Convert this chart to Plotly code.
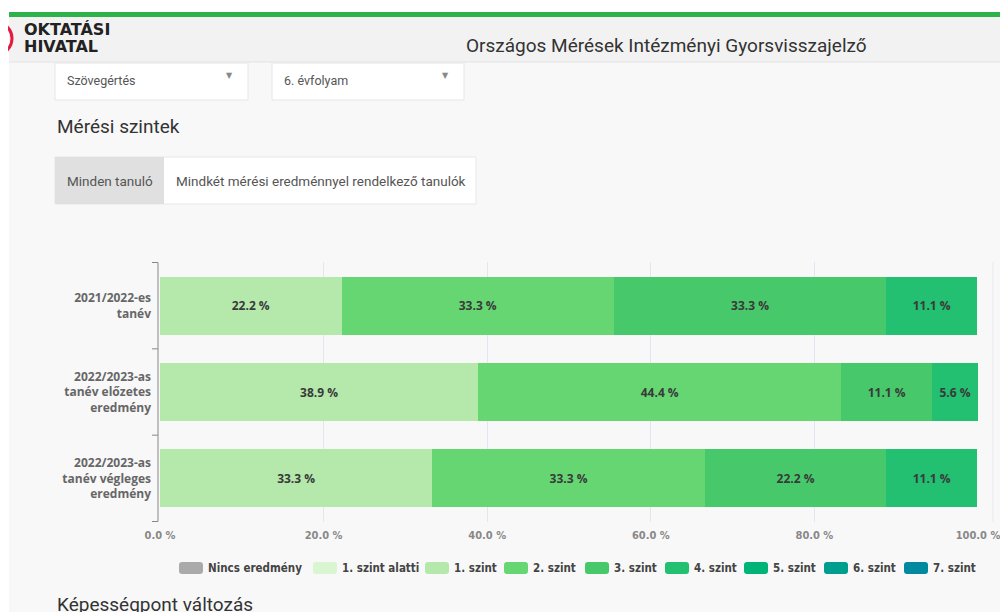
import plotly.graph_objects as go

# The page body has an 8px margin, so the figure is 8px smaller and
# screen coordinates are shifted by 8px.
OFF = 8
W, H = 1008 - OFF, 612 - OFF
M = 2  # small figure margin (px)

categories = [
    "2021/2022-es<br>tanév",
    "2022/2023-as<br>tanév előzetes<br>eredmény",
    "2022/2023-as<br>tanév végleges<br>eredmény",
]
level_names = ["Nincs eredmény", "1. szint alatti", "1. szint", "2. szint", "3. szint",
               "4. szint", "5. szint", "6. szint", "7. szint"]
level_colors = ["#aaaaaa", "#d9f5d2", "#b4e9ab", "#66d673", "#47c96b",
                "#22c070", "#00b478", "#009e8e", "#00899f"]
nincs = [0, 0, 0]
szint_alatti = [0, 0, 0]
szint1 = [22.2, 38.9, 33.3]
szint2 = [33.3, 44.4, 33.3]
szint3 = [33.3, 11.1, 22.2]
szint4 = [11.1, 5.6, 11.1]
szint5 = [0, 0, 0]
szint6 = [0, 0, 0]
szint7 = [0, 0, 0]
series = [nincs, szint_alatti, szint1, szint2, szint3, szint4, szint5, szint6, szint7]
xtick_vals = [0, 20, 40, 60, 80, 100]
xtick_text = ["0.0 %", "20.0 %", "40.0 %", "60.0 %", "80.0 %", "100.0 %"]

# legend layout (screen px of each item's swatch start)
legend_item_x = [179, 313, 425, 504, 585, 665, 744, 824, 904]


def X(px):
    return (px - OFF - M) / (W - 2 * M)


def Y(py):
    return 1 - (py - OFF - M) / (H - 2 * M)


fig = go.Figure()
for name, color, vals in zip(level_names, level_colors, series):
    fig.add_trace(go.Bar(
        y=categories, x=vals, name=name, orientation="h",
        marker=dict(color=color, line=dict(width=0)),
        text=[f"{v:.1f} %" if v > 0 else "" for v in vals],
        textposition="inside", insidetextanchor="middle",
        textfont=dict(family="Open Sans", size=12, color="#3a3a3a", weight="bold"),
        constraintext="none", hoverinfo="skip", showlegend=False,
    ))

shapes = []
annos = []


def rect(x0, x1, y0, y1, fill, line=None, layer="below"):
    shapes.append(dict(type="rect", xref="paper", yref="paper", x0=X(x0), x1=X(x1), y0=Y(y1), y1=Y(y0),
                       fillcolor=fill, line=line or dict(width=0), layer=layer))


def text(s, x, y, size, color, xanchor="left", family="Roboto", weight="normal"):
    annos.append(dict(text=s, x=X(x), y=Y(y), xref="paper", yref="paper", xanchor=xanchor,
                      yanchor="middle", showarrow=False,
                      font=dict(family=family, size=size, color=color, weight=weight)))


# page chrome
rect(0, 1008, 0, 12, "#ffffff")
rect(0, 9, 0, 612, "#ffffff")
rect(9, 1008, 17, 62, "#f2f2f2")
shapes.append(dict(type="line", xref="paper", yref="paper", x0=X(9), x1=X(1008), y0=Y(62), y1=Y(62),
                   line=dict(color="#e2e2e2", width=1), layer="below"))
rect(9, 1008, 12, 17, "#2eb34b", layer="above")
shapes.append(dict(type="circle", xref="paper", yref="paper", x0=X(-21), x1=X(12), y0=Y(55), y1=Y(22),
                   line=dict(color="#e31b3f", width=3)))
text("OKTATÁSI", 22, 30, 16, "#222222", family="DejaVu Sans", weight="bold")
text("HIVATAL", 22, 47, 16, "#222222", family="DejaVu Sans", weight="bold")
text("Országos Mérések Intézményi Gyorsvisszajelző", 666, 45, 19, "#333333", xanchor="center")

# dropdowns
for x0, x1, label in [(55, 248, "Szövegértés"), (272, 464, "6. évfolyam")]:
    rect(x0, x1, 63, 100, "#ffffff", line=dict(color="#e6e6e6", width=1))
    text(label, x0 + 10, 80, 12.5, "#555555")
    text("▼", x1 - 19, 76, 8, "#888888", xanchor="center", family="DejaVu Sans")

text("Mérési szintek", 55, 126, 19, "#333333")

# toggle
rect(55, 476, 157, 204, "#ffffff", line=dict(color="#e8e8e8", width=1))
rect(55, 164, 157, 204, "#e0e0e0")
text("Minden tanuló", 110, 181, 13.5, "#555555", xanchor="center")
text("Mindkét mérési eredménnyel rendelkező tanulók", 321, 181, 13.5, "#555555", xanchor="center")

text("Képességpont változás", 55, 604, 19, "#333333")

# faint right border line of chart
shapes.append(dict(type="line", xref="paper", yref="paper", x0=X(993), x1=X(993), y0=Y(522), y1=Y(262),
                   line=dict(color="#e6e9f0", width=1), layer="below"))

# category axis line and boundary ticks (on the y category scale)
AX_X = X(158)
shapes.append(dict(type="line", xref="paper", yref="y", x0=AX_X, x1=AX_X, y0=-0.5,
                   y1=len(categories) - 0.5, line=dict(color="#888888", width=1), layer="above"))
for b in range(len(categories) + 1):
    shapes.append(dict(type="line", xref="paper", yref="y", x0=X(152), x1=AX_X, y0=b - 0.5, y1=b - 0.5,
                       line=dict(color="#888888", width=1), layer="above"))

# manual legend
for lx, name, color in zip(legend_item_x, level_names, level_colors):
    x0, x1, y0, y1 = X(lx), X(lx + 24), Y(574), Y(562)
    r = 3 / W
    ry = 3 / H
    path = (f"M{x0 + r},{y1} L{x1 - r},{y1} Q{x1},{y1} {x1},{y1 - ry} L{x1},{y0 + ry} "
            f"Q{x1},{y0} {x1 - r},{y0} L{x0 + r},{y0} Q{x0},{y0} {x0},{y0 + ry} "
            f"L{x0},{y1 - ry} Q{x0},{y1} {x0 + r},{y1} Z")
    shapes.append(dict(type="path", xref="paper", yref="paper", path=path, fillcolor=color,
                       line=dict(width=0)))
    text(name, lx + 27, 568, 11.5, "#444444", family="DejaVu Sans Condensed", weight="bold")

fig.update_layout(
    width=W, height=H, autosize=False,
    margin=dict(l=M, r=M, t=M, b=M, pad=0, autoexpand=False),
    paper_bgcolor="#f8f8f8", plot_bgcolor="rgba(0,0,0,0)",
    barmode="stack", bargap=0.33,
    showlegend=False,
    shapes=shapes, annotations=annos,
    xaxis=dict(domain=[X(160), X(978)], range=[0, 100], tickvals=xtick_vals, ticktext=xtick_text,
               showgrid=True, gridcolor="#e3e6ee", gridwidth=1, zeroline=False, showline=False,
               ticks="outside", ticklen=3, tickcolor="rgba(0,0,0,0)", anchor="y",
               tickfont=dict(family="DejaVu Sans Condensed", size=11, color="#888888", weight="bold")),
    yaxis=dict(domain=[Y(522), Y(262)], autorange="reversed", type="category", anchor="x",
               showline=False, ticks="", showgrid=False, ticklabelstandoff=8,
               tickfont=dict(family="Open Sans", size=12, color="#666666", weight="bold")),
    font=dict(family="Open Sans"),
)

fig.write_html("out.html")
